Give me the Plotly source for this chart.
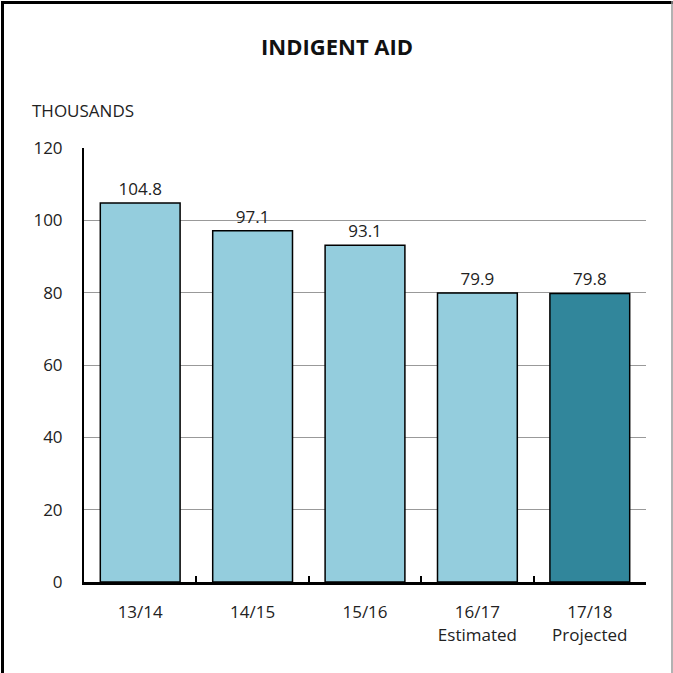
import plotly.graph_objects as go

categories = ["13/14", "14/15", "15/16", "16/17<br>Estimated", "17/18<br>Projected"]
values = [104.8, 97.1, 93.1, 79.9, 79.8]
value_labels = ["104.8", "97.1", "93.1", "79.9", "79.8"]
colors = ["#94CDDD", "#94CDDD", "#94CDDD", "#94CDDD", "#31869B"]
y_ticks = [0, 20, 40, 60, 80, 100, 120]

W, H = 673, 673
L, R, T, B = 84, 27, 148, 91
FONT = "Open Sans"

def px(x):
    return (x - L) / (W - L - R)

def py(y):
    return 1 - (y - T) / (H - T - B)

fig = go.Figure()
fig.add_trace(go.Bar(
    x=categories, y=values,
    marker=dict(color=colors, line=dict(color="#000000", width=1.5)),
    width=0.71,
    text=value_labels, textposition="outside",
    textfont=dict(family=FONT, size=17, color="#222"),
    cliponaxis=False,
))

fig.update_layout(
    width=W, height=H,
    margin=dict(l=L, r=R, t=T, b=B),
    paper_bgcolor="white", plot_bgcolor="white",
    showlegend=False,
    font=dict(family=FONT, size=17, color="#222"),
    xaxis=dict(
        type="category",
        showline=True, linecolor="black", linewidth=3,
        ticks="inside", tickson="boundaries", ticklen=6, tickwidth=2, tickcolor="black",
        tickfont=dict(family=FONT, size=17, color="#222"),
        ticklabelstandoff=13,
        showgrid=False,
    ),
    yaxis=dict(
        range=[0, 120],
        tickvals=y_ticks,
        showline=True, linecolor="black", linewidth=2,
        showgrid=True, gridcolor="#999999", gridwidth=1,
        ticks="", ticklabelstandoff=16,
        tickfont=dict(family=FONT, size=17, color="#222"),
        zeroline=False,
    ),
    bargap=0.29,
)

fig.add_annotation(text="<b>INDIGENT AID</b>", x=px(337), xref="paper", y=py(46), yref="paper",
                   xanchor="center", yanchor="middle", showarrow=False,
                   font=dict(family=FONT, size=22, color="#111"))
fig.add_annotation(text="THOUSANDS", x=px(30), xref="paper", y=py(110), yref="paper",
                   xanchor="left", yanchor="middle", showarrow=False,
                   font=dict(family=FONT, size=17, color="#222"))

# frame
fig.add_shape(type="line", xref="paper", yref="paper", x0=px(1), x1=px(673), y0=py(2.5), y1=py(2.5),
              line=dict(color="black", width=3))
fig.add_shape(type="line", xref="paper", yref="paper", x0=px(2.5), x1=px(2.5), y0=py(1), y1=py(673),
              line=dict(color="black", width=3))
fig.add_shape(type="line", xref="paper", yref="paper", x0=px(672), x1=px(672), y0=py(1), y1=py(673),
              line=dict(color="#999999", width=1.5))

fig.write_html("out.html")
